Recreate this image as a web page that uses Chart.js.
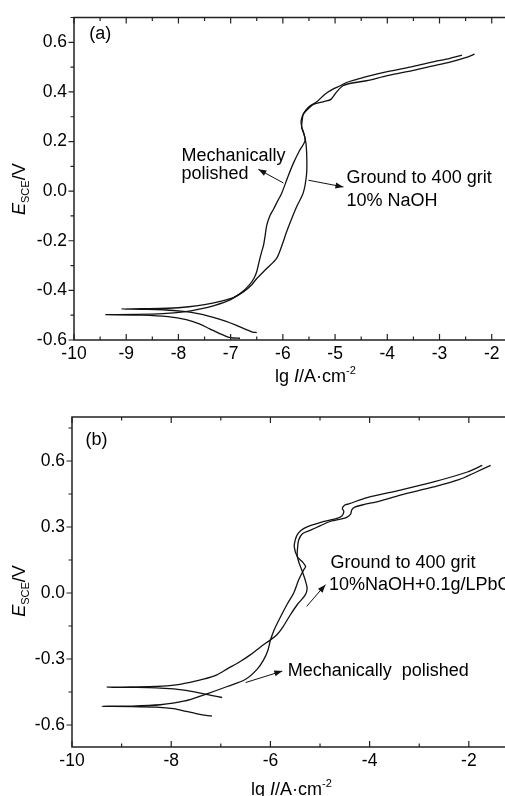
<!DOCTYPE html>
<html>
<head>
<meta charset="utf-8">
<script src="https://cdn.jsdelivr.net/npm/chart.js@4.4.0/dist/chart.umd.min.js"></script>
<style>
  html, body { margin: 0; padding: 0; background: #fff; overflow: hidden; width: 505px; height: 796px; }
  canvas { position: absolute; left: 0; }
  #chartA { top: 0; }
  #chartB { top: 395px; }
</style>
</head>
<body>
<canvas id="chartA" width="560" height="395"></canvas>
<canvas id="chartB" width="514" height="401"></canvas>
<script>
// (a) 10% NaOH -- lg I (A/cm2) vs E (V vs SCE)
const aPolishedLgI = [-6.82, -6.95, -7.05, -7.2, -7.4, -7.6, -7.85, -8.2, -8.7, -9.39,
  -8.8, -8.3, -7.9, -7.6, -7.3, -7.0, -6.8, -6.65, -6.55, -6.5,
  -6.45, -6.4, -6.37, -6.34, -6.31, -6.25, -6.18, -6.1, -6.02, -5.9,
  -5.8, -5.69, -5.575, -5.6, -5.64, -5.65, -5.6, -5.5, -5.35, -5.2,
  -5.05, -4.9, -4.78, -4.6, -4.4, -4.0, -3.5, -3.12, -2.8, -2.57];
const aPolishedE = [-0.593, -0.592, -0.588, -0.575, -0.555, -0.535, -0.518, -0.506, -0.5, -0.498,
  -0.497, -0.494, -0.487, -0.476, -0.46, -0.437, -0.41, -0.38, -0.35, -0.324,
  -0.28, -0.24, -0.218, -0.18, -0.139, -0.1, -0.073, -0.04, -0.007, 0.06,
  0.112, 0.16, 0.204, 0.235, 0.26, 0.285, 0.315, 0.34, 0.36, 0.39,
  0.41, 0.425, 0.438, 0.45, 0.462, 0.482, 0.503, 0.521, 0.535, 0.548];
const aGroundLgI = [-6.5, -6.58, -6.7, -6.9, -7.1, -7.35, -7.6, -7.9, -8.3, -8.7, -9.09,
  -8.7, -8.2, -7.8, -7.5, -7.2, -6.95, -6.75, -6.6, -6.5,
  -6.3, -6.12, -6.02, -5.93, -5.83, -5.73, -5.61, -5.55, -5.54, -5.556,
  -5.59, -5.64, -5.63, -5.607, -5.5, -5.415, -5.2, -5.08, -4.97, -4.85,
  -4.7, -4.4, -4.0, -3.5, -3.12, -2.8, -2.5, -2.33];
const aGroundE = [-0.57, -0.568, -0.558, -0.54, -0.524, -0.508, -0.495, -0.485, -0.478, -0.476, -0.475,
  -0.474, -0.472, -0.466, -0.457, -0.444, -0.429, -0.405, -0.378, -0.352,
  -0.31, -0.271, -0.22, -0.165, -0.11, -0.06, -0.007, 0.06, 0.12, 0.191,
  0.225, 0.257, 0.285, 0.31, 0.335, 0.35, 0.362, 0.37, 0.40, 0.425,
  0.435, 0.445, 0.466, 0.487, 0.505, 0.52, 0.538, 0.552];

// (b) 10% NaOH + 0.1 g/L PbO
const bPolishedLgI = [-7.18, -7.3, -7.5, -7.7, -7.95, -8.3, -8.8, -9.395,
  -8.8, -8.22, -7.75, -7.28, -6.87, -6.5, -6.27, -6.14, -6.05, -6.0,
  -5.93, -5.8, -5.66, -5.53, -5.43, -5.33, -5.29, -5.35, -5.46, -5.52,
  -5.5, -5.46, -5.38, -5.26, -5.0, -4.66, -4.56, -4.52, -4.55, -4.5,
  -4.42, -4.05, -3.38, -2.71, -2.03, -1.73];
const bPolishedE = [-0.559, -0.556, -0.548, -0.538, -0.526, -0.519, -0.516, -0.515,
  -0.514, -0.508, -0.492, -0.458, -0.425, -0.392, -0.347, -0.305, -0.26, -0.215,
  -0.17, -0.11, -0.05, 0.0, 0.06, 0.105, 0.12, 0.14, 0.166, 0.211,
  0.24, 0.264, 0.285, 0.301, 0.32, 0.339, 0.35, 0.37, 0.385, 0.40,
  0.405, 0.434, 0.468, 0.505, 0.55, 0.58];
const bGroundLgI = [-6.975, -7.2, -7.41, -7.7, -7.95, -8.3, -8.8, -9.29,
  -8.8, -8.3, -7.9, -7.6, -7.35, -7.08, -6.87, -6.6, -6.4, -6.2,
  -6.0, -5.87, -5.75, -5.6, -5.45, -5.3, -5.26, -5.3, -5.36, -5.42,
  -5.46, -5.45, -5.43, -5.35, -5.19, -5.0, -4.8, -4.66, -4.5, -4.42,
  -4.38, -4.36, -4.3, -4.15, -3.8, -3.38, -2.71, -2.2, -1.85, -1.56];
const bGroundE = [-0.475, -0.465, -0.455, -0.443, -0.436, -0.431, -0.429, -0.428,
  -0.427, -0.425, -0.418, -0.405, -0.392, -0.372, -0.345, -0.31, -0.28, -0.245,
  -0.213, -0.19, -0.155, -0.10, -0.05, -0.01, 0.02, 0.06, 0.10, 0.135,
  0.17, 0.21, 0.241, 0.27, 0.286, 0.305, 0.325, 0.332, 0.34, 0.35,
  0.36, 0.378, 0.39, 0.40, 0.418, 0.445, 0.482, 0.515, 0.55, 0.58];

const aXTicks = [-10, -9, -8, -7, -6, -5, -4, -3, -2];
const aYTicks = [-0.6, -0.4, -0.2, 0, 0.2, 0.4, 0.6];
const bXTicks = [-10, -8, -6, -4, -2];
const bYTicks = [-0.6, -0.3, 0, 0.3, 0.6];

const FONT = '"Liberation Sans", Arial, Helvetica, sans-serif';

function pts(xs, ys) {
  return xs.map((x, i) => ({ x: x, y: ys[i] }));
}

function near(v, step) {
  return Math.abs(v / step - Math.round(v / step)) < 1e-6;
}

// draw a run of text pieces (font / vertical shift) centred on 0
function rich(ctx, pieces) {
  let w = 0;
  pieces.forEach(p => { ctx.font = p.font; p.w = ctx.measureText(p.t).width; w += p.w; });
  let x = -w / 2;
  pieces.forEach(p => { ctx.font = p.font; ctx.fillText(p.t, x, p.dy || 0); x += p.w; });
}

const frame = {
  id: 'frame',
  afterDraw(chart, args, o) {
    const { ctx, chartArea: a } = chart;
    const x = chart.scales.x, y = chart.scales.y;
    ctx.save();
    ctx.strokeStyle = '#222';
    ctx.lineWidth = 1.5;
    ctx.strokeRect(a.left, a.top, a.right - a.left, a.bottom - a.top);

    // inward ticks on bottom and top, outward on the left
    ctx.lineWidth = 1.2;
    ctx.beginPath();
    for (let v = x.min; v <= x.max + 1e-9; v += o.xMinor) {
      const px = x.getPixelForValue(v);
      const len = near(v, o.xMajor) ? 6 : 3.5;
      ctx.moveTo(px, a.bottom); ctx.lineTo(px, a.bottom - len);
      ctx.moveTo(px, a.top); ctx.lineTo(px, a.top + len);
    }
    for (let v = Math.ceil(y.min / o.yMinor - 1e-6) * o.yMinor; v <= y.max + 1e-9; v += o.yMinor) {
      const py = y.getPixelForValue(v);
      const len = near(v, o.yMajor) ? 5.5 : 3.5;
      ctx.moveTo(a.left, py); ctx.lineTo(a.left - len, py);
    }
    ctx.stroke();

    ctx.fillStyle = '#000';
    ctx.textBaseline = 'alphabetic';
    ctx.textAlign = 'left';

    // x title: lg I/A·cm-2
    ctx.save();
    ctx.translate((a.left + a.right) / 2, a.bottom + o.xTitleGap);
    rich(ctx, [
      { t: 'lg ', font: '18px ' + FONT },
      { t: 'I', font: 'italic 18px ' + FONT },
      { t: '/A·cm', font: '18px ' + FONT },
      { t: '-2', font: '11px ' + FONT, dy: -8 }
    ]);
    ctx.restore();

    // y title: E_SCE/V
    ctx.save();
    ctx.translate(a.left - o.yTitleGap, y.getPixelForValue(0) - 2);
    ctx.rotate(-Math.PI / 2);
    rich(ctx, [
      { t: 'E', font: 'italic 18px ' + FONT },
      { t: 'SCE', font: '11px ' + FONT, dy: 4 },
      { t: '/V', font: '18px ' + FONT }
    ]);
    ctx.restore();

    // notes and arrows, placed in data units
    ctx.font = '18px ' + FONT;
    o.notes.forEach(n => {
      ctx.fillText(n.t, x.getPixelForValue(n.x), y.getPixelForValue(n.y));
    });
    ctx.lineWidth = 1;
    ctx.strokeStyle = '#111';
    ctx.fillStyle = '#111';
    o.arrows.forEach(r => {
      const x1 = x.getPixelForValue(r.x1), y1 = y.getPixelForValue(r.y1);
      const x2 = x.getPixelForValue(r.x2), y2 = y.getPixelForValue(r.y2);
      const ang = Math.atan2(y2 - y1, x2 - x1);
      ctx.beginPath();
      ctx.moveTo(x1, y1); ctx.lineTo(x2, y2);
      ctx.stroke();
      ctx.beginPath();
      ctx.moveTo(x2, y2);
      ctx.lineTo(x2 - 8 * Math.cos(ang) + 3 * Math.sin(ang), y2 - 8 * Math.sin(ang) - 3 * Math.cos(ang));
      ctx.lineTo(x2 - 8 * Math.cos(ang) - 3 * Math.sin(ang), y2 - 8 * Math.sin(ang) + 3 * Math.cos(ang));
      ctx.closePath();
      ctx.fill();
    });
    ctx.restore();
  }
};

function makeChart(id, series, opt) {
  const tickFont = { family: FONT, size: 17.5 };
  return new Chart(document.getElementById(id), {
    type: 'scatter',
    data: {
      datasets: series.map(s => ({
        data: s,
        showLine: true,
        borderColor: '#111',
        borderWidth: 1.3,
        pointRadius: 0,
        tension: 0.3,
        fill: false
      }))
    },
    options: {
      responsive: false,
      animation: false,
      events: [],
      layout: { padding: opt.pad },
      plugins: {
        legend: { display: false },
        tooltip: { enabled: false },
        frame: opt.frame
      },
      scales: {
        x: {
          type: 'linear',
          min: opt.xMin,
          max: opt.xMax,
          afterBuildTicks: s => { s.ticks = opt.xTicks.map(v => ({ value: v })); },
          afterFit: s => { s.height = opt.xh; },
          grid: { display: false, drawTicks: false },
          border: { display: false },
          ticks: {
            autoSkip: false,
            maxRotation: 0,
            padding: 4,
            color: '#000',
            font: tickFont,
            callback: v => String(Math.round(v))
          }
        },
        y: {
          type: 'linear',
          min: opt.yMin,
          max: opt.yMax,
          afterBuildTicks: s => { s.ticks = opt.yTicks.map(v => ({ value: v })); },
          afterFit: s => { s.width = opt.yw; },
          grid: { display: false, drawTicks: false },
          border: { display: false },
          ticks: {
            autoSkip: false,
            padding: 7,
            color: '#000',
            font: tickFont,
            callback: v => (Math.abs(v) < 1e-9 ? 0 : v).toFixed(1)
          }
        }
      }
    },
    plugins: [frame]
  });
}

makeChart('chartA', [pts(aPolishedLgI, aPolishedE), pts(aGroundLgI, aGroundE)], {
  xMin: -10, xMax: -0.75, yMin: -0.6, yMax: 0.7,
  xTicks: aXTicks, yTicks: aYTicks,
  pad: { top: 11, right: 3, left: 0, bottom: 0 },
  xh: 55, yw: 74,
  frame: {
    xMajor: 1, xMinor: 0.5, yMajor: 0.2, yMinor: 0.1,
    xTitleGap: 42, yTitleGap: 49,
    notes: [
      { t: '(a)', x: -9.71, y: 0.615 },
      { t: 'Mechanically', x: -7.94, y: 0.12 },
      { t: 'polished', x: -7.94, y: 0.05 },
      { t: 'Ground to 400 grit', x: -4.78, y: 0.033 },
      { t: '10% NaOH', x: -4.78, y: -0.059 }
    ],
    arrows: [
      { x1: -5.99, y1: 0.033, x2: -6.47, y2: 0.088 },
      { x1: -5.51, y1: 0.044, x2: -4.84, y2: 0.017 }
    ]
  }
});

makeChart('chartB', [pts(bPolishedLgI, bPolishedE), pts(bGroundLgI, bGroundE)], {
  xMin: -10, xMax: -1.15, yMin: -0.7, yMax: 0.8,
  xTicks: bXTicks, yTicks: bYTicks,
  pad: { top: 22, right: 3, left: 0, bottom: 0 },
  xh: 49, yw: 72,
  frame: {
    xMajor: 2, xMinor: 1, yMajor: 0.3, yMinor: 0.15,
    xTitleGap: 48, yTitleGap: 47,
    notes: [
      { t: '(b)', x: -9.73, y: 0.671 },
      { t: 'Ground to 400 grit', x: -4.79, y: 0.113 },
      { t: '10%NaOH+0.1g/LPbO', x: -4.82, y: 0.015 },
      { t: 'Mechanically  polished', x: -5.65, y: -0.377 }
    ],
    arrows: [
      { x1: -5.27, y1: -0.061, x2: -4.89, y2: 0.038 },
      { x1: -6.5, y1: -0.407, x2: -5.76, y2: -0.355 }
    ]
  }
});
</script>
</body>
</html>
